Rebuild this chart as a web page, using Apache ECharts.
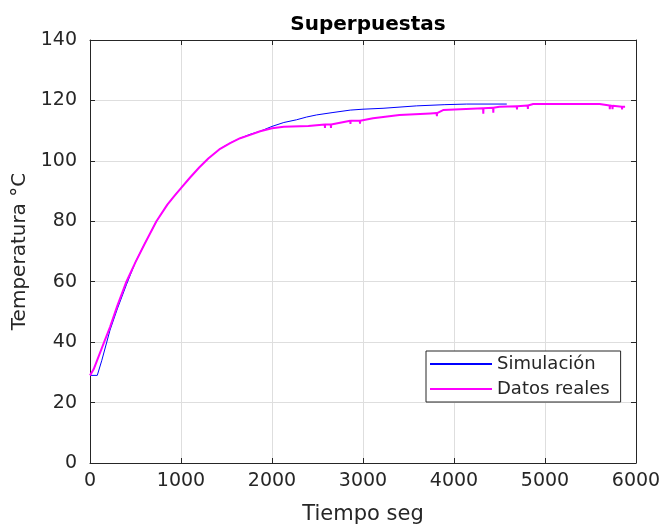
<!DOCTYPE html>
<html>
<head>
<meta charset="utf-8">
<script src="https://cdn.jsdelivr.net/npm/echarts@6/dist/echarts.min.js"></script>
<style>
html,body{margin:0;padding:0;background:#fff;}
#c{width:663px;height:525px;}
</style>
</head>
<body>
<div id="c"></div>
<script>
var title = 'Superpuestas';
var xName = 'Tiempo seg';
var yName = 'Temperatura °C';
var seriesNames = ['Simulación', 'Datos reales'];

var simT = [0, 80, 130, 220, 300, 400, 500, 600, 730, 850, 930, 1000, 1100, 1200, 1300, 1430, 1540, 1650, 1760, 1870, 2000, 2130, 2270, 2380, 2490, 2670, 2860, 3000, 3220, 3590, 3900, 4140, 4580];
var simV = [29, 29, 34, 44, 51, 59, 66.5, 72.5, 80, 85.5, 88.5, 91, 94.5, 97.8, 100.8, 104, 105.9, 107.5, 108.8, 109.8, 111.4, 112.7, 113.6, 114.5, 115.2, 116, 116.8, 117.1, 117.4, 118.2, 118.6, 118.8, 118.8];

var realT = [0, 40, 150, 220, 300, 400, 500, 600, 730, 850, 930, 1000, 1100, 1200, 1300, 1430, 1540, 1650, 1760, 1870, 2000, 2130, 2400,
  2580, 2582, 2584, 2646, 2648, 2650, 2670, 2860, 2862, 2864, 2965, 2967, 2969, 3110, 3400, 3740,
  3810, 3812, 3814, 3880, 4320, 4322, 4324, 4430, 4432, 4434, 4500, 4690, 4692, 4694, 4810, 4812, 4814, 4870,
  5600, 5710, 5712, 5714, 5740, 5742, 5744, 5845, 5847, 5849, 5880];
var realV = [29, 31, 39.6, 45, 52, 60, 66.5, 72.5, 80, 85.5, 88.5, 91, 94.5, 97.8, 100.8, 104, 105.9, 107.5, 108.6, 109.8, 110.8, 111.3, 111.5,
  112, 110.9, 112, 112, 110.9, 112, 112.4, 113.3, 112.2, 113.3, 113.3, 112.3, 113.3, 114.1, 115.2, 115.7,
  115.8, 114.8, 115.8, 116.8, 117.4, 115.6, 117.4, 117.6, 115.9, 117.6, 117.9, 118.1, 117, 118.1, 118.3, 117.2, 118.3, 118.8,
  118.8, 118.3, 117.1, 118.3, 118.2, 117.1, 118.2, 117.9, 117, 117.9, 117.9];

function pairs(t, v) { return t.map(function (x, i) { return [x, v[i]]; }); }

var xMin = 0, xMax = 6000, xStep = 1000;
var yMin = 0, yMax = 140, yStep = 20;

var axisColor = '#262626';
var font = 'DejaVu Sans';

var chart = echarts.init(document.getElementById('c'), null, {renderer: 'canvas'});

function mkX(pos, show) {
  return {
    type: 'value', position: pos, min: xMin, max: xMax, interval: xStep,
    name: show ? xName : '', nameLocation: 'middle', nameGap: 41,
    nameTextStyle: {fontFamily: font, fontSize: 21, color: axisColor},
    axisLine: {show: true, onZero: false, lineStyle: {color: axisColor, width: 1}},
    axisTick: {show: true, inside: true, length: 5, lineStyle: {color: axisColor}},
    axisLabel: {show: show, fontFamily: font, fontSize: 19, color: axisColor, margin: 9,
      formatter: function (v) { return String(v); }},
    splitLine: {show: show, lineStyle: {color: '#dedede', width: 1}}
  };
}
function mkY(pos, show) {
  return {
    type: 'value', position: pos, min: yMin, max: yMax, interval: yStep,
    name: show ? yName : '', nameLocation: 'middle', nameGap: 54,
    nameTextStyle: {fontFamily: font, fontSize: 20, color: axisColor},
    axisLine: {show: true, onZero: false, lineStyle: {color: axisColor, width: 1}},
    axisTick: {show: true, inside: true, length: 5, lineStyle: {color: axisColor}},
    axisLabel: {show: show, fontFamily: font, fontSize: 19, color: axisColor, margin: 13,
      formatter: function (v) { return String(v); }},
    splitLine: {show: show, lineStyle: {color: '#dedede', width: 1}}
  };
}

chart.setOption({
  animation: false,
  backgroundColor: '#fff',
  title: {
    text: title, left: 363, top: 10, textAlign: 'center',
    textStyle: {fontFamily: font, fontSize: 20, fontWeight: 'bold', color: '#000'}
  },
  grid: {left: 90, right: 27, top: 40, bottom: 62, containLabel: false, outerBoundsMode: 'none'},
  xAxis: [mkX('bottom', true), mkX('top', false)],
  yAxis: [mkY('left', true), mkY('right', false)],
  legend: {
    orient: 'vertical', left: 426, top: 351,
    backgroundColor: '#fff', borderColor: axisColor, borderWidth: 1, borderRadius: 0,
    padding: [4, 11, 4, 4], itemGap: 7, itemWidth: 62, itemHeight: 2,
    icon: 'rect',
    textStyle: {fontFamily: font, fontSize: 18, color: axisColor, padding: [0, 0, 0, 0]},
    data: seriesNames
  },
  series: [
    {name: seriesNames[0], type: 'line', xAxisIndex: 0, yAxisIndex: 0, showSymbol: false, symbol: 'none',
      lineStyle: {color: '#0000ff', width: 1}, itemStyle: {color: '#0000ff'}, data: pairs(simT, simV)},
    {name: seriesNames[1], type: 'line', xAxisIndex: 0, yAxisIndex: 0, showSymbol: false, symbol: 'none',
      lineStyle: {color: '#ff00ff', width: 2}, itemStyle: {color: '#ff00ff'}, data: pairs(realT, realV)}
  ]
});
</script>
</body>
</html>
